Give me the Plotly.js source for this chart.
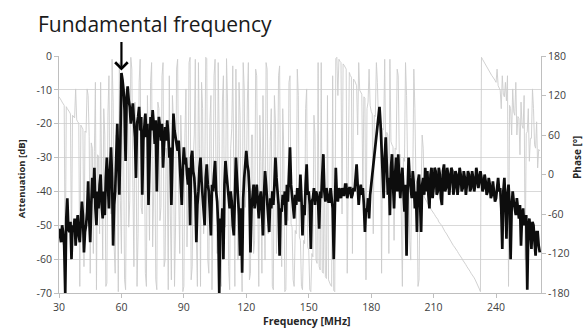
<!DOCTYPE html>
<html>
<head>
<meta charset="utf-8">
<script src="https://cdn.plot.ly/plotly-3.0.1.min.js"></script>
<style>
html,body{margin:0;padding:0;background:#fff;}
#chart{width:587px;height:328px;}
</style>
</head>
<body>
<div id="chart"></div>
<script>
// Frequency sampling (MHz): first sample and step
const freqStart = 30;
const freqStep = 0.5;

// Attenuation [dB], one value every 0.5 MHz from 30 to 261 MHz
const attenuation = [
  -51,-53,-55,-50,-52,-56,-70,-48,-42,-51,
  -52,-49,-60,-50,-52,-48,-56,-50,-47,-53,
  -55,-49,-43,-47,-58,-52,-50,-46,-37,-48,
  -55,-44,-36,-42,-33,-45,-50,-40,-45,-38,
  -35,-44,-48,-40,-47,-36,-30,-38,-45,-34,
  -27,-36,-56,-44,-40,-30,-20,-32,-41,-25,
  -5,-7,-10,-16,-31,-12,-9,-13,-15,-20,
  -17,-14,-19,-24,-36,-20,-18,-15,-22,-18,
  -41,-25,-21,-17,-24,-20,-44,-26,-18,-22,
  -16,-20,-26,-19,-40,-24,-18,-21,-25,-20,
  -33,-26,-21,-25,-19,-23,-30,-27,-44,-30,
  -17,-22,-24,-27,-28,-25,-31,-35,-44,-33,
  -27,-32,-30,-35,-38,-33,-50,-30,-28,-34,
  -36,-41,-55,-44,-40,-33,-30,-37,-42,-48,
  -50,-36,-32,-38,-40,-46,-53,-38,-40,-35,
  -31,-40,-43,-50,-70,-48,-52,-45,-60,-38,
  -31,-35,-38,-42,-45,-40,-43,-50,-53,-42,
  -30,-36,-41,-47,-59,-45,-64,-42,-36,-31,
  -28,-32,-34,-40,-58,-45,-42,-38,-45,-41,
  -38,-43,-48,-42,-40,-45,-53,-41,-34,-38,
  -43,-47,-52,-42,-45,-40,-44,-38,-30,-36,
  -40,-44,-59,-45,-46,-41,-44,-40,-50,-38,
  -43,-35,-27,-38,-42,-45,-48,-41,-44,-39,
  -40,-43,-35,-42,-53,-44,-47,-38,-32,-41,
  -40,-44,-57,-43,-42,-39,-44,-40,-41,-43,
  -51,-40,-42,-35,-29,-40,-43,-39,-41,-43,
  -43,-39,-42,-45,-60,-40,-33,-41,-43,-39,
  -40,-42,-39,-41,-41,-38,-38,-42,-40,-39,
  -39,-42,-41,-39,-40,-36,-32,-38,-44,-40,
  -38,-41,-39,-44,-52,-45,-46,-42,-48,-41,
  -38,-34,-31,-28,-25,-23,-20,-18,-15,-20,
  -27,-35,-42,-30,-24,-32,-41,-36,-47,-33,
  -29,-38,-45,-35,-30,-40,-29,-37,-42,-36,
  -33,-40,-46,-38,-59,-40,-30,-36,-39,-42,
  -34,-38,-45,-40,-52,-37,-35,-44,-52,-38,
  -36,-41,-33,-40,-34,-41,-45,-35,-33,-42,
  -39,-33,-34,-41,-40,-33,-35,-42,-44,-34,
  -32,-40,-39,-33,-35,-41,-38,-33,-34,-41,
  -39,-34,-35,-41,-38,-33,-35,-40,-39,-34,
  -36,-41,-38,-34,-35,-40,-39,-34,-36,-40,
  -38,-33,-35,-39,-37,-34,-36,-40,-39,-35,
  -37,-41,-40,-36,-38,-42,-41,-37,-40,-43,
  -42,-38,-36,-40,-39,-45,-57,-40,-36,-43,
  -54,-41,-38,-44,-60,-45,-40,-43,-45,-47,
  -42,-46,-48,-44,-56,-47,-45,-50,-49,-47,
  -69,-51,-48,-52,-57,-49,-50,-55,-59,-52,
  -52,-56,-58
];

// Phase [°], one value every 0.5 MHz from 30 to 261 MHz
const phase = [
  118,116,113,110,108,105,-160,103,100,98,
  95,92,-120,90,88,86,130,83,80,78,
  -170,75,72,69,-140,66,64,130,120,58,
  -150,48,40,-120,35,140,-175,30,28,-90,
  140,-20,-130,100,60,-170,-165,90,150,-30,
  -60,175,110,-110,-150,60,20,-178,170,-40,
  -120,130,70,-160,-175,30,120,-80,-40,178,
  160,-20,-140,110,50,-170,-90,140,175,-50,
  -60,80,90,-150,-170,120,30,-100,140,170,
  -110,0,60,-160,-175,110,100,-70,-50,150,
  170,-140,-130,40,20,-175,150,-60,-160,120,
  80,-170,-80,160,175,-30,-120,90,40,-178,
  -170,60,130,-110,-20,170,178,-160,-140,20,
  60,175,-100,-170,170,40,-170,140,100,-90,
  -30,178,176,-130,-150,80,120,-175,-60,150,
  175,-20,-120,170,50,-160,-170,110,150,-60,
  -80,176,110,-140,-175,40,70,165,-40,-170,
  160,20,-130,140,90,-100,-178,170,130,-50,
  -20,110,170,-160,-150,60,60,-120,-100,160,
  150,-40,-170,90,20,-150,120,-10,-130,170,
  160,-90,-60,50,100,-170,-175,120,80,-120,
  -30,150,165,-60,-140,100,40,-178,-175,-50,
  -70,140,150,-75,-80,-160,-170,-85,-90,160,
  120,-95,-100,-170,-175,-100,-105,100,130,-110,
  -115,-175,-178,-120,-125,90,60,-130,-135,170,
  -140,-145,170,-148,-150,30,-155,-158,120,-160,
  -165,-168,-170,150,-176,-178,176,178,120,175,
  172,170,-60,168,166,163,160,-150,40,155,
  150,148,-120,145,143,140,135,60,170,128,
  125,122,-30,118,116,-160,100,110,160,105,
  96,92,-90,90,88,170,140,80,75,72,
  -150,70,68,175,20,64,60,-120,175,50,
  45,42,-100,40,38,160,150,32,30,-60,
  -170,25,20,170,120,12,10,-100,-130,2,
  -5,160,100,-10,-15,-170,-160,-20,-25,60,
  40,-34,-38,-40,-43,-46,-48,-51,-54,-56,
  -58,-61,-64,-66,-68,-72,-75,-76,-78,-82,
  -85,-87,-89,-92,-95,-97,-99,-102,-105,-108,
  -110,-112,-114,-117,-120,-122,-125,-127,-130,-132,
  -134,-137,-140,-142,-145,-147,-150,-152,-155,-157,
  -160,-163,-166,-170,-174,-178,178,175,172,169,
  166,164,162,159,156,153,150,148,146,143,
  140,160,135,131,128,100,150,122,118,140,
  112,150,-170,105,100,60,130,95,90,140,
  60,88,85,30,110,75,70,120,-130,62,
  65,100,20,55,55,130,100,45,40,80,
  10,38,36
];

// Tick labels
const freqTicks = [30, 60, 90, 120, 150, 180, 210, 240];
const attTicks = [0, -10, -20, -30, -40, -50, -60, -70];
const attTickText = ["0", "-10", "-20", "-30", "-40", "-50", "-60", "-70"];
const phaseTicks = [180, 120, 60, 0, -60, -120, -180];
const phaseTickText = ["180", "120", "60", "0", "-60", "-120", "-180"];

// Peak marker
const peakFreq = 60;
const peakAtt = -4.3;

const tickFont = {family: "Open Sans, sans-serif", size: 10.5, color: "#404040"};
const axTitleFont = {family: "Open Sans, sans-serif", size: 9.5, color: "#262626", weight: "bold"};

const traces = [
  {
    type: "scatter", mode: "lines",
    x0: freqStart, dx: freqStep, y: phase,
    xaxis: "x", yaxis: "y",
    line: {color: "#cccccc", width: 0.9},
    hoverinfo: "skip"
  },
  {
    type: "scatter", mode: "lines",
    x0: freqStart, dx: freqStep, y: attenuation,
    xaxis: "x", yaxis: "y2",
    line: {color: "#0d0d0d", width: 2.7},
    hoverinfo: "skip"
  }
];

const layout = {
  width: 587, height: 328,
  margin: {l: 59, r: 46, t: 56, b: 35, pad: 0},
  paper_bgcolor: "#ffffff", plot_bgcolor: "#ffffff",
  showlegend: false,
  xaxis: {
    range: [30, 261.6], tickvals: freqTicks,
    showgrid: false, zeroline: false,
    showline: true, linecolor: "#bfbfbf", linewidth: 1,
    ticks: "outside", ticklen: 4, tickcolor: "#bfbfbf",
    tickfont: tickFont
  },
  yaxis: {
    range: [-180, 180], side: "right",
    tickvals: phaseTicks, ticktext: phaseTickText,
    showgrid: false, zeroline: false,
    showline: true, linecolor: "#bfbfbf", linewidth: 1,
    ticks: "outside", ticklen: 4, tickcolor: "#bfbfbf",
    tickfont: tickFont
  },
  yaxis2: {
    range: [-70, 0], side: "left", overlaying: "y",
    tickvals: attTicks, ticktext: attTickText,
    showgrid: true, gridcolor: "#d9d9d9", gridwidth: 1,
    zeroline: false,
    showline: true, linecolor: "#bfbfbf", linewidth: 1,
    ticks: "outside", ticklen: 4, tickcolor: "#bfbfbf",
    tickfont: tickFont
  },
  annotations: [
    {
      text: "Fundamental frequency", xref: "paper", yref: "paper",
      x: -23/482, y: 1 + 32/237, xanchor: "left", yanchor: "middle",
      showarrow: false,
      font: {family: "Open Sans, sans-serif", size: 21, color: "#1a1a1a"}
    },
    {
      text: "", x: peakFreq, y: peakAtt, xref: "x", yref: "y2",
      showarrow: true, arrowhead: 4, arrowsize: 1.1, arrowwidth: 2.2,
      arrowcolor: "#000000", ax: 0, ay: -30, standoff: 0
    },
    {
      text: "Attenuation [dB]", xref: "paper", yref: "paper",
      x: -38/482, y: 0.48, textangle: -90, showarrow: false,
      xanchor: "center", yanchor: "middle", font: axTitleFont
    },
    {
      text: "Phase [°]", xref: "paper", yref: "paper",
      x: 1 + 36/482, y: 0.57, textangle: -90, showarrow: false,
      xanchor: "center", yanchor: "middle",
      font: {family: "Open Sans, sans-serif", size: 10, color: "#262626", weight: "bold"}
    },
    {
      text: "Frequency [MHz]", xref: "paper", yref: "paper",
      x: (307-59)/482, y: -28/237, showarrow: false,
      xanchor: "center", yanchor: "middle",
      font: {family: "Open Sans, sans-serif", size: 10.5, color: "#262626", weight: "bold"}
    }
  ]
};

Plotly.newPlot("chart", traces, layout, {staticPlot: true, displayModeBar: false});
</script>
</body>
</html>
